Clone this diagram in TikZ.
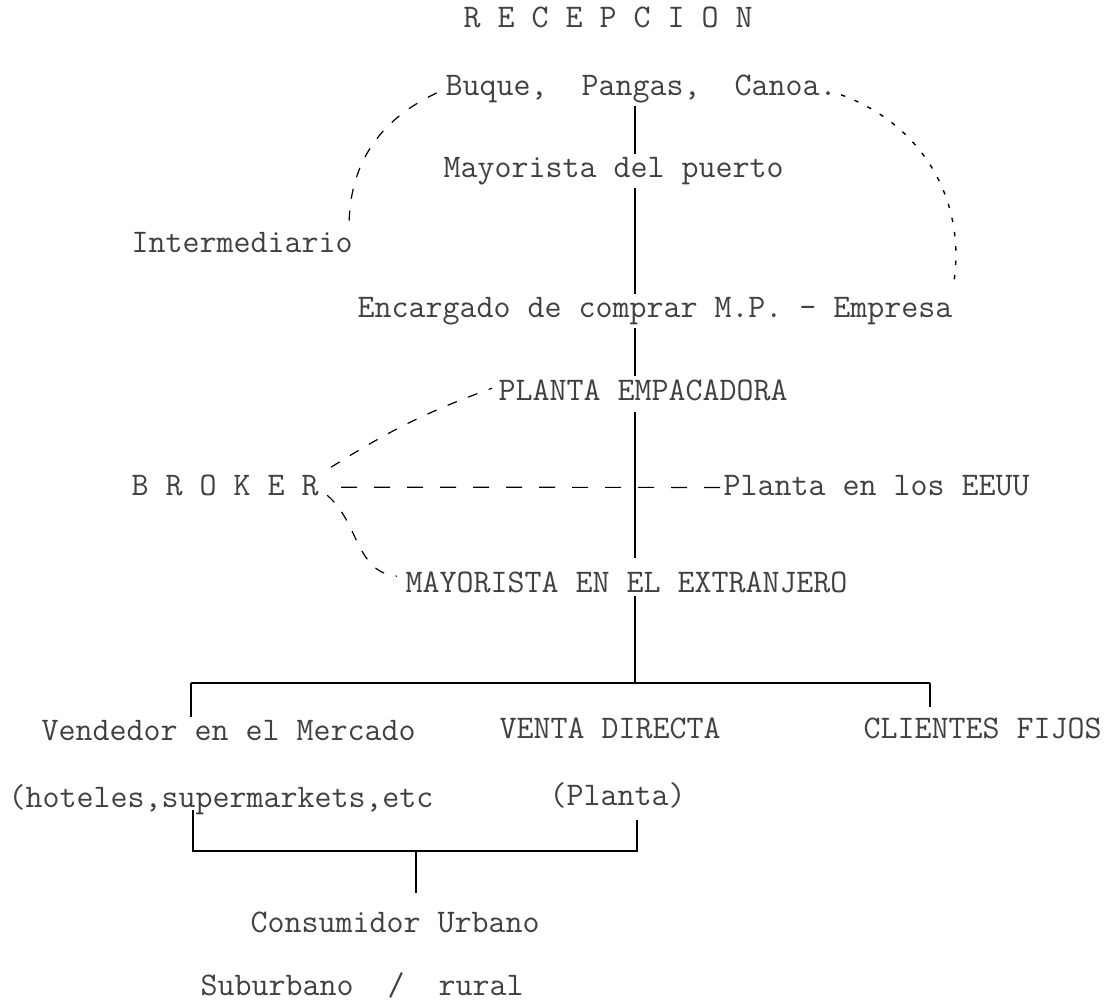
\documentclass[tikz,border=0pt]{standalone}
\usepackage{fontspec}
\begin{document}
\begin{tikzpicture}[x=.5pt,y=-.5pt,line width=.6pt,
        txt/.style={anchor=mid west,inner xsep=0pt,inner ysep=1.5pt,text=black!75,
            font=\ttfamily\fontsize{16.5}{19}\selectfont\frenchspacing},
        brk/.style={dash pattern=on 5pt off 6pt},
        dots/.style={dash pattern=on 2.2pt off 5pt,line width=.7pt},
        longdash/.style={dash pattern=on 8pt off 8.5pt},
        bar/.style={line width=1.3pt}]
        \pgfmathsetmacro{\ax}{635}
        \useasboundingbox (0,0) rectangle (1111,1006);
        \coordinate (axis) at (\ax,0);

        \node[txt] (R) at (463,23) {R E C E P C I O N};
        \node[txt] (B) at (445,91) {Buque,~~Pangas,~~Canoa.};
        \node[txt] (M_p) at (443,173) {Mayorista del puerto};
        \node[txt] (I) at (131,248) {Intermediario};
        \node[txt] (E) at (357,313) {Encargado de comprar M.P. - Empresa};

        \node[txt] (P_e) at (498,396) {PLANTA EMPACADORA};
        \node[txt] (BR) at (131,491) {B R O K E R};
        \node[txt] (P_u) at (723,491) {Planta en los EEUU};
        \node[txt] (M_e) at (405,588) {MAYORISTA EN EL EXTRANJERO};

        \node[txt] (V_m) at (41,736) {Vendedor en el Mercado};
        \node[txt] (V_d) at (499,734) {VENTA DIRECTA};
        \node[txt] (C_f) at (863,734) {CLIENTES FIJOS};
        \node[txt] (H) at (8,803) {(hoteles,supermarkets,etc};
        \node[txt] (P_l) at (549,801) {(Planta)};
        \node[txt] (C_u) at (250,928) {Consumidor Urbano};
        \node[txt] (S_r) at (200,991) {Suburbano~~/~~rural};

        \coordinate (bar_l) at (191,683);
        \coordinate (bar_r) at (930,683);
        \coordinate (br_l) at (193,851);
        \coordinate (br_r) at (637,851);
        \coordinate (br_m) at (416,851);

        % main line
        \draw (B.south -| axis) -- (M_p.north -| axis);
        \draw (M_p.south -| axis) -- (E.north -| axis);
        \draw (E.south -| axis) -- (P_e.north -| axis);
        \draw[shorten <=4pt,shorten >=5pt] (P_e.south -| axis) -- (M_e.north -| axis);
        \draw (M_e.south -| axis) -- (bar_l -| axis);

        % side links
        \draw[brk] ([xshift=-2pt,yshift=4pt]I.north east) to[out=88,in=205] ([xshift=-4pt,yshift=-2pt]B.west);
        \draw[dots] ([xshift=2pt,yshift=-3pt]B.east) to[out=-20,in=80] ([yshift=3pt]E.north east);
        \draw[brk] ([xshift=6pt,yshift=2pt]BR.north east) to[out=32,in=200] ([xshift=-3pt,yshift=1pt]P_e.west);
        \draw[brk] ([xshift=4pt,yshift=2pt]BR.south east) to[out=-40,in=175] ([xshift=-4pt,yshift=3pt]M_e.west);
        \draw[longdash] ([xshift=11pt,yshift=-1pt]BR.east) -- ([yshift=-1pt]P_u.west);

        % lower tree
        \draw[bar] (bar_l) -- (bar_r);
        \draw (bar_l) -- ++(0,34);
        \draw (bar_r) -- ++(0,24);
        \draw (br_l) ++(0,-41) -- (br_l) -- (br_r) -- ++(0,-31);
        \draw (br_m) -- ++(0,42);

    \end{tikzpicture}
\end{document}
